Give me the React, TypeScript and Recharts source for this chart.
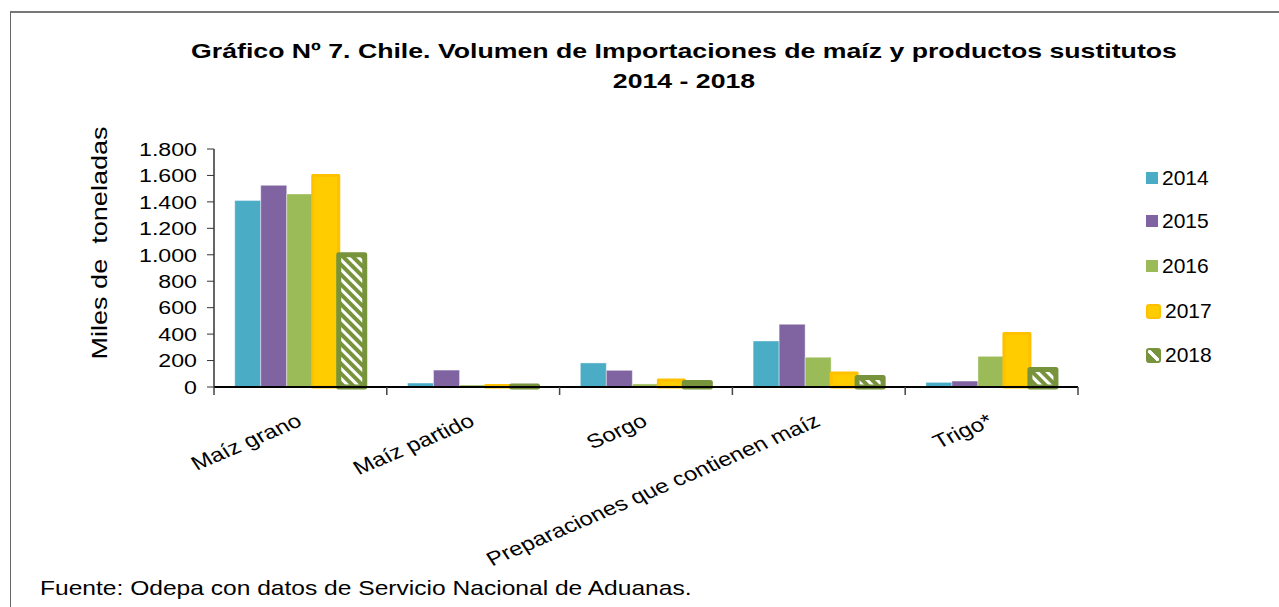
import React from "react";
import { BarChart, Bar, XAxis, YAxis } from "recharts";

const categories = ["Maíz grano", "Maíz partido", "Sorgo", "Preparaciones que contienen maíz", "Trigo*"];
const v2014 = [1410, 30, 182, 348, 35];
const v2015 = [1525, 128, 126, 474, 45];
const v2016 = [1460, 15, 23, 225, 232];
const v2017 = [1600, 12, 53, 106, 405];
const v2018 = [1000, 8, 34, 72, 132];
const yTicks = [0, 200, 400, 600, 800, 1000, 1200, 1400, 1600, 1800];

const series = [
  { key: "y2014", name: "2014", fill: "#4BACC6" },
  { key: "y2015", name: "2015", fill: "#8064A2" },
  { key: "y2016", name: "2016", fill: "#9BBB59" },
  { key: "y2017", name: "2017", fill: "#FFCC00" },
  { key: "y2018", name: "2018", fill: "#77933C" },
];

const data = categories.map((c, i) => ({
  name: c,
  y2014: v2014[i],
  y2015: v2015[i],
  y2016: v2016[i],
  y2017: v2017[i],
  y2018: v2018[i],
}));

const FONT = "'Liberation Sans', Arial, sans-serif";

const fmt = (v: number) => v.toLocaleString("de-DE");

// the source image has its texts stretched sideways, so they get a scaleX
function CategoryTick(props: any) {
  const { x, y, payload, index, visibleTicksCount } = props;
  const half = payload?.offset ?? 86.4;
  const last = index === visibleTicksCount - 1;
  const ax = x + 3;
  const ay = y + 38;
  return (
    <g>
      <line x1={x - half} y1={y} x2={x - half} y2={y + 8} stroke="#444" strokeWidth={1.5} />
      {last && <line x1={x + half} y1={y} x2={x + half} y2={y + 8} stroke="#444" strokeWidth={1.5} />}
      <text
        x={0}
        y={0}
        textAnchor="end"
        transform={`translate(${ax}, ${ay}) scale(1.24, 1) rotate(-28)`}
        fontSize={19.5}
        fontFamily={FONT}
        fill="#000"
      >
        {payload.value}
      </text>
    </g>
  );
}

function ValueTick(props: any) {
  const { x, y, payload } = props;
  return (
    <text
      x={0}
      y={0}
      dy="0.355em"
      textAnchor="end"
      transform={`translate(${x}, ${y}) scale(1.22, 1)`}
      fontSize={19}
      fontFamily={FONT}
      fill="#000"
    >
      {fmt(payload.value)}
    </text>
  );
}

function LegendBox({ name }: { name: string }) {
  if (name === "2017") {
    return <div style={{ width: 11, height: 11, background: "#FFCC00", border: "2px solid #FFC000", borderRadius: 3 }} />;
  }
  if (name === "2018") {
    return (
      <div
        style={{
          width: 11,
          height: 11,
          border: "2px solid #77933C",
          borderRadius: 3,
          background: "linear-gradient(45deg, #77933C 40%, #fff 40%, #fff 60%, #77933C 60%)",
        }}
      />
    );
  }
  const s = series.find(d => d.name === name);
  return <div style={{ width: 12, height: 12, background: s?.fill }} />;
}

const legendY = [178, 221, 266, 311, 355];

export default function App() {
  return (
    <div style={{ position: "absolute", left: 0, top: 0, width: 1279, height: 607, background: "#fff", overflow: "hidden", fontFamily: FONT }}>
      <div style={{ position: "absolute", left: 10, top: 11, width: 1400, height: 700, borderLeft: "1px solid #666", borderTop: "2px solid #777" }} />
      <div
        style={{
          position: "absolute",
          left: 0,
          width: 1368,
          top: 36,
          textAlign: "center",
          fontSize: 21,
          fontWeight: "bold",
          lineHeight: "30px",
          transform: "scaleX(1.27)",
          transformOrigin: "684px 0",
        }}
      >
        Gráfico Nº 7. Chile. Volumen de Importaciones de maíz y productos sustitutos
        <br />
        2014 - 2018
      </div>
      <div
        style={{
          position: "absolute",
          left: 100,
          top: 243,
          transform: "translate(-50%, -50%) rotate(-90deg) scaleX(1.23)",
          fontSize: 22,
          whiteSpace: "pre",
        }}
      >
        {"Miles de  toneladas"}
      </div>
      <BarChart
        width={1279}
        height={607}
        data={data}
        margin={{ top: 149, right: 201, bottom: 180, left: 134 }}
        barCategoryGap="12%"
        barGap={0}
        style={{ position: "absolute", left: 0, top: 0 }}
      >
        <defs>
          <pattern id="stripes2018" width="7" height="7" patternUnits="userSpaceOnUse" patternTransform="rotate(-45)">
            <rect width="7" height="7" fill="#77933C" />
            <rect width="3" height="7" fill="#fff" />
          </pattern>
        </defs>
        <XAxis
          dataKey="name"
          interval={0}
          tickLine={false}
          tickSize={0}
          tickMargin={0}
          height={40}
          axisLine={{ stroke: "#000", strokeWidth: 2 }}
          tick={<CategoryTick />}
        />
        <XAxis xAxisId="top" orientation="top" dataKey="name" height={0} tick={false} tickLine={false} axisLine={{ stroke: "#888", strokeWidth: 3 }} />
        <YAxis
          domain={[0, 1800]}
          ticks={yTicks}
          interval={0}
          width={80}
          tickSize={7}
          tickMargin={10}
          tick={<ValueTick />}
          tickLine={{ stroke: "#333" }}
          axisLine={{ stroke: "#333", strokeWidth: 1.5 }}
        />
        <YAxis yAxisId="right" orientation="right" width={0} domain={[0, 1800]} tick={false} tickLine={false} axisLine={{ stroke: "#888", strokeWidth: 3 }} />
        <Bar dataKey="y2014" name="2014" fill="#4BACC6" stroke="#fff" strokeOpacity={0.4} isAnimationActive={false} />
        <Bar dataKey="y2015" name="2015" fill="#8064A2" stroke="#fff" strokeOpacity={0.4} isAnimationActive={false} />
        <Bar dataKey="y2016" name="2016" fill="#9BBB59" stroke="#fff" strokeOpacity={0.4} isAnimationActive={false} />
        <Bar dataKey="y2017" name="2017" fill="#FFCC00" stroke="#FFC000" strokeWidth={3} strokeLinejoin="round" isAnimationActive={false} />
        <Bar dataKey="y2018" name="2018" fill="url(#stripes2018)" stroke="#77933C" strokeWidth={5} strokeLinejoin="round" isAnimationActive={false} />
      </BarChart>
      {series.map((s, i) => (
        <div
          key={s.key}
          style={{ position: "absolute", left: 1146, top: legendY[i] - 13, height: 26, display: "flex", alignItems: "center", gap: 4 }}
        >
          <LegendBox name={s.name} />
          <span style={{ fontSize: 21, lineHeight: "26px" }}>{s.name}</span>
        </div>
      ))}
      <div
        style={{
          position: "absolute",
          left: 40,
          top: 576,
          fontSize: 21,
          whiteSpace: "nowrap",
          transform: "scaleX(1.17)",
          transformOrigin: "0 0",
        }}
      >
        Fuente: Odepa con datos de Servicio Nacional de Aduanas.
      </div>
    </div>
  );
}
